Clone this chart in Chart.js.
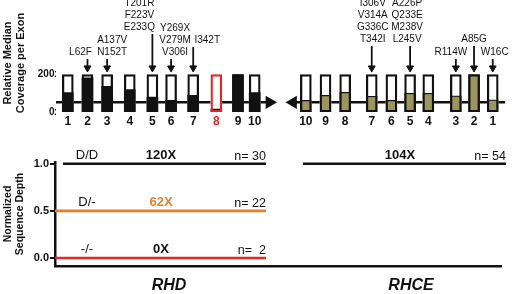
<!DOCTYPE html>
<html>
<head>
<meta charset="utf-8">
<script src="https://cdn.jsdelivr.net/npm/chart.js@4.4.1/dist/chart.umd.min.js"></script>
<style>
  html, body { margin: 0; padding: 0; background: #fff; }
  #wrap { position: relative; width: 520px; height: 294px; }
  #top { position: absolute; left: 0; top: 0; }
  #bottom { position: absolute; left: 0; top: 134px; }
</style>
</head>
<body>
<div id="wrap">
  <canvas id="top" width="520" height="134"></canvas>
  <canvas id="bottom" width="520" height="160"></canvas>
</div>
<script>
// exons, schematic positions along each gene (arbitrary units)
const exonNumbers = [1, 2, 3, 4, 5, 6, 7, 8, 9, 10];
const rhdExonPos = [1, 2, 3, 4.15, 5.3, 6.25, 7.375, 8.55, 9.65, 10.5];
const rhceExonPos = [22.6, 21.65, 20.725, 19.325, 18.4, 17.45, 16.45, 15.1, 14.1, 13.1];

// relative median coverage per exon (x)
const rhdCoverage = [104, 183, 138, 120, 80, 63, 89, 16, 200, 104];
const rhceCoverage = [65, 200, 86, 100, 100, 62, 84, 105, 89, 62];
const coverageMax = 200;
const coverageTicks = [0, 200];
const rhdHighlightExon = 8;

// gene backbone (arrow) extents
const rhdSpan = [0.4, 11.25];
const rhceSpan = [12.45, 23.23];
const backboneLevel = 52;

// variants per exon
const rhdVarExon = [2, 3, 5, 6, 7];
const rhdVarLabels = [['L62F'], ['A137V', 'N152T'], ['T201R', 'F223V', 'E233Q'], ['Y269X', 'V279M', 'V306I'], ['I342T']];
const rhdVarTop = [284, 284, 418, 284, 348];
const rhceVarExon = [7, 5, 3, 2, 1];
const rhceVarLabels = [['I306V', 'V314A', 'G336C', 'T342I'], ['A226P', 'Q233E', 'M238V', 'L245V'], ['R114W'], ['A85G'], ['W16C']];
const rhceVarTop = [354, 354, 284, 354, 284];

// normalized sequence depth
const genotypes = ['D/D', 'D/-', '-/-'];
const rhdDepth = [1.0, 0.5, 0.0];
const rhdMeanX = [120, 62, 0];
const rhdN = [30, 22, 2];
const rhdLineStart = [0.75, 0.35, 0.35];
const rhdLineEnd = 10.9;
const rhceDepth = 1.0;
const rhceMeanX = 104;
const rhceN = 54;
const rhceLineSpan = [12.75, 22.9];
const depthTicks = [0, 0.5, 1.0];
const geneNames = ['RHD', 'RHCE'];
const geneLabelPos = [6.05, 18.15];

const black = '#111111';
const olive = '#9d955f';
const orange = '#e5802e';
const red = '#e3262b';
const lineColors = [black, orange, red];
const meanColors = [black, orange, black];

Chart.defaults.font.family = '"Liberation Sans", Arial, Helvetica, sans-serif';
Chart.defaults.color = black;
Chart.defaults.animation = false;

// ---------- top panel ----------
const allPos = rhdExonPos.concat(rhceExonPos);
const allCov = rhdCoverage.concat(rhceCoverage);
const allExon = exonNumbers.concat(exonNumbers);
const isRhd = allPos.map((p, i) => i < rhdExonPos.length);
const highlight = allExon.map((e, i) => isRhd[i] && e === rhdHighlightExon);

const arrowTip = 236;
const arrowSets = [];
function addArrows(exons, tops, posList) {
    exons.forEach((e, j) => {
        const x = posList[e - 1];
        arrowSets.push({
            type: 'line',
            data: [{x: x, y: tops[j]}, {x: x, y: arrowTip}],
            borderColor: black,
            borderWidth: 1.8,
            pointRadius: [0, 4],
            pointHoverRadius: 0,
            pointStyle: 'triangle',
            pointRotation: 180,
            pointBackgroundColor: black,
            pointBorderColor: black,
            pointBorderWidth: 1,
            clip: false
        });
    });
}
addArrows(rhdVarExon, rhdVarTop, rhdExonPos);
addArrows(rhceVarExon, rhceVarTop, rhceExonPos);

// horizontal nudge of each label block, in px
const labelShift = { rhd: [-7, 5, -13, 4, 14], rhce: [1, -3, -5, 0, 2] };

const variantLabels = {
    id: 'variantLabels',
    afterDatasetsDraw(chart) {
        const {ctx, scales: {x, y}} = chart;
        ctx.save();
        ctx.fillStyle = black;
        ctx.font = '10px "Liberation Sans", Arial, sans-serif';
        ctx.textAlign = 'center';
        ctx.textBaseline = 'middle';
        const draw = (exons, labels, tops, posList, shifts) => {
            exons.forEach((e, j) => {
                const px = x.getPixelForValue(posList[e - 1]) + shifts[j];
                const yb = y.getPixelForValue(tops[j]) - 6.5;
                const n = labels[j].length;
                labels[j].forEach((t, k) => {
                    ctx.fillText(t, px, yb - (n - 1 - k) * 12);
                });
            });
        };
        draw(rhdVarExon, rhdVarLabels, rhdVarTop, rhdExonPos, labelShift.rhd);
        draw(rhceVarExon, rhceVarLabels, rhceVarTop, rhceExonPos, labelShift.rhce);
        ctx.restore();
    }
};

new Chart(document.getElementById('top'), {
    type: 'bar',
    data: {
        datasets: [
            {
                // exon outline
                data: allPos.map(p => ({x: p, y: coverageMax})),
                backgroundColor: 'rgba(0,0,0,0)',
                borderColor: highlight.map(h => h ? red : black),
                borderWidth: 1.6,
                borderSkipped: false
            },
            {
                // coverage fill
                data: allPos.map((p, i) => ({x: p, y: allCov[i]})),
                backgroundColor: isRhd.map(r => r ? black : olive),
                borderColor: black,
                borderWidth: isRhd.map(r => r ? 0 : 1.2)
            },
            {
                // exon background
                data: allPos.map(p => ({x: p, y: coverageMax})),
                backgroundColor: '#ffffff',
                borderWidth: 0
            },
            {
                type: 'line',
                data: [{x: rhdSpan[0], y: backboneLevel}, {x: rhdSpan[1], y: backboneLevel}],
                borderColor: black,
                borderWidth: 2.6,
                pointRadius: [0, 5],
                pointStyle: 'triangle',
                pointRotation: [0, 90],
                pointBackgroundColor: black,
                pointBorderColor: black,
                clip: false
            },
            {
                type: 'line',
                data: [{x: rhceSpan[0], y: backboneLevel}, {x: rhceSpan[1], y: backboneLevel}],
                borderColor: black,
                borderWidth: 2.6,
                pointRadius: [5, 0],
                pointStyle: 'triangle',
                pointRotation: [270, 0],
                pointBackgroundColor: black,
                pointBorderColor: black,
                clip: false
            },
            ...arrowSets
        ]
    },
    options: {
        responsive: false,
        layout: { padding: { top: 14, left: 0, right: 0, bottom: 0 } },
        datasets: { bar: { barThickness: 11, grouped: false } },
        plugins: { legend: { display: false }, tooltip: { enabled: false } },
        scales: {
            x: {
                type: 'linear',
                min: 0.4,
                max: 23.6,
                offset: false,
                afterBuildTicks: s => { s.ticks = allPos.map(v => ({value: v})); },
                afterFit: s => { s.height = 22; },
                grid: { display: false, drawTicks: false },
                border: { display: false },
                ticks: {
                    autoSkip: false,
                    maxRotation: 0,
                    padding: 2,
                    font: { size: 12, weight: 'bold' },
                    color: c => highlight[c.index] ? red : black,
                    callback: (v, i) => allExon[i]
                }
            },
            y: {
                min: 0,
                max: 525,
                afterBuildTicks: s => { s.ticks = coverageTicks.map(v => ({value: v})); },
                afterFit: s => { s.width = 56; },
                grid: { display: false, drawTicks: false },
                border: { display: false },
                ticks: {
                    padding: -4,
                    font: { size: 10, weight: 'bold' },
                    callback: v => v + 'x'
                },
                title: {
                    display: true,
                    text: ['Relative Median', 'Coverage per Exon'],
                    font: { size: 11, weight: 'bold' },
                    padding: { top: 1.5, bottom: 0 }
                }
            }
        }
    },
    plugins: [variantLabels]
});

// ---------- bottom panel ----------
const depthSets = genotypes.map((g, i) => ({
    data: [{x: rhdLineStart[i], y: rhdDepth[i]}, {x: rhdLineEnd, y: rhdDepth[i]}],
    borderColor: lineColors[i],
    borderWidth: 2.6,
    pointRadius: 0,
    clip: false
}));
depthSets.push({
    data: [{x: rhceLineSpan[0], y: rhceDepth}, {x: rhceLineSpan[1], y: rhceDepth}],
    borderColor: black,
    borderWidth: 2.6,
    pointRadius: 0,
    clip: false
});

const labelCols = { genotype: 1.95, mean: 5.65, rhceMean: 17.6 };

const depthLabels = {
    id: 'depthLabels',
    afterDatasetsDraw(chart) {
        const {ctx, scales: {x, y}} = chart;
        const family = '"Liberation Sans", Arial, sans-serif';
        ctx.save();
        ctx.textBaseline = 'alphabetic';
        const nText = n => 'n= ' + (n < 10 ? ' ' : '') + n;
        genotypes.forEach((g, i) => {
            const py = y.getPixelForValue(rhdDepth[i]);
            ctx.fillStyle = black;
            ctx.font = '13px ' + family;
            ctx.textAlign = 'center';
            ctx.fillText(g, x.getPixelForValue(labelCols.genotype), py - 5);
            ctx.font = 'bold 13px ' + family;
            ctx.fillStyle = meanColors[i];
            ctx.fillText(rhdMeanX[i] + 'X', x.getPixelForValue(labelCols.mean), py - 5);
            ctx.fillStyle = black;
            ctx.font = '12.5px ' + family;
            ctx.textAlign = 'right';
            ctx.fillText(nText(rhdN[i]), x.getPixelForValue(rhdLineEnd), py - 3.5);
        });
        const py = y.getPixelForValue(rhceDepth);
        ctx.fillStyle = black;
        ctx.font = 'bold 13px ' + family;
        ctx.textAlign = 'center';
        ctx.fillText(rhceMeanX + 'X', x.getPixelForValue(labelCols.rhceMean), py - 5);
        ctx.font = '12.5px ' + family;
        ctx.textAlign = 'right';
        ctx.fillText(nText(rhceN), x.getPixelForValue(rhceLineSpan[1]), py - 3.5);
        ctx.restore();
    }
};

new Chart(document.getElementById('bottom'), {
    type: 'line',
    data: { datasets: depthSets },
    options: {
        responsive: false,
        layout: { padding: { top: 28, left: 0, right: 19, bottom: 0 } },
        plugins: { legend: { display: false }, tooltip: { enabled: false } },
        scales: {
            x: {
                type: 'linear',
                min: 0.35,
                max: 22.65,
                afterBuildTicks: s => { s.ticks = geneLabelPos.map(v => ({value: v})); },
                afterFit: s => { s.height = 28; },
                grid: { display: false, drawTicks: false },
                border: { display: true, color: black, width: 2.5 },
                ticks: {
                    autoSkip: false,
                    maxRotation: 0,
                    padding: 10,
                    font: { size: 16, weight: 'bold', style: 'italic' },
                    callback: (v, i) => geneNames[i]
                }
            },
            y: {
                min: -0.085,
                max: 1.018,
                afterBuildTicks: s => { s.ticks = depthTicks.map(v => ({value: v})); },
                afterFit: s => { s.width = 55; },
                grid: { display: true, drawOnChartArea: false, drawTicks: true, tickLength: 5, color: black, lineWidth: 2 },
                border: { display: true, color: black, width: 2.5 },
                ticks: {
                    padding: 1,
                    font: { size: 11, weight: 'bold' },
                    callback: v => v.toFixed(1)
                },
                title: {
                    display: true,
                    text: ['Normalized', 'Sequence Depth'],
                    font: { size: 10.5, weight: 'bold' },
                    padding: { top: 1.5, bottom: 0 }
                }
            }
        }
    },
    plugins: [depthLabels]
});
</script>
</body>
</html>
